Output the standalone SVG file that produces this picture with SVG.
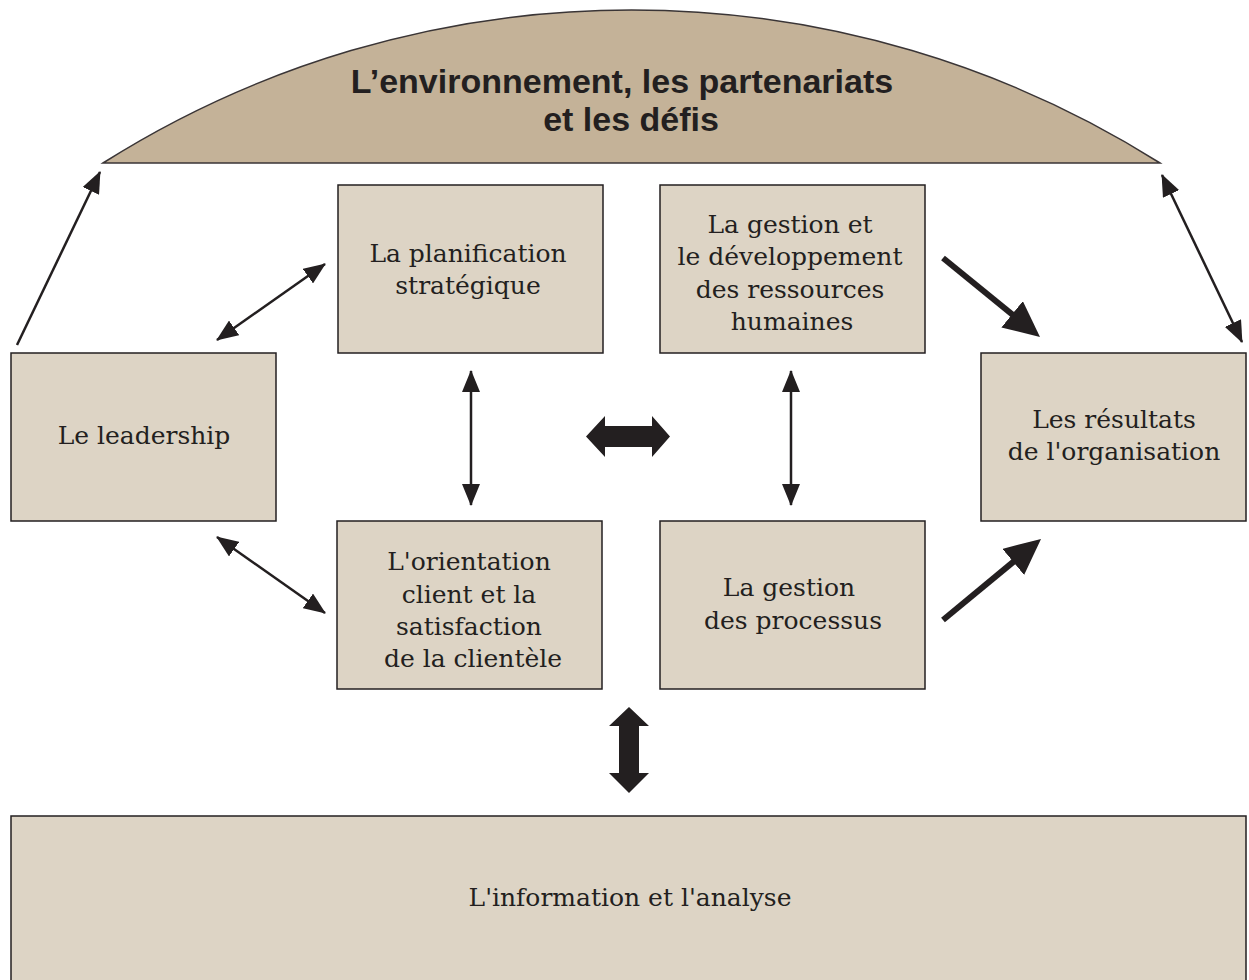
<svg xmlns="http://www.w3.org/2000/svg" width="1249" height="980" viewBox="0 0 1249 980">
<style>
.box{fill:#ddd4c5;stroke:#231f20;stroke-width:1.5}
.dome{fill:#c4b298;stroke:#3a3536;stroke-width:1.5}
.t{font-family:"DejaVu Serif","Liberation Serif",serif;font-size:25px;fill:#231f20;text-anchor:middle}
.title{font-family:"Liberation Sans",Arial,sans-serif;font-weight:bold;font-size:34px;fill:#231f20;text-anchor:middle}
.thin{stroke:#231f20;stroke-width:2.5;fill:none}
.thick{stroke:#231f20;stroke-width:6;fill:none}
.fat{fill:#231f20}
</style>
<defs>
<marker id="ah" viewBox="0 0 22 18" refX="21" refY="9" markerWidth="22" markerHeight="18" markerUnits="userSpaceOnUse" orient="auto-start-reverse">
<path d="M0,0 L22,9 L0,18 Z" fill="#231f20"/>
</marker>
<marker id="ahb" viewBox="0 0 36 34" refX="16" refY="17" markerWidth="36" markerHeight="34" markerUnits="userSpaceOnUse" orient="auto">
<path d="M0,0 L36,17 L0,34 Z" fill="#231f20"/>
</marker>
</defs>
<rect width="1249" height="980" fill="#ffffff"/>

<g id="dome">
<path class="dome" d="M103,163 A989,989 0 0 1 1160,163 Z"/>
<text class="title" x="622" y="93">L’environnement, les partenariats</text>
<text class="title" x="631" y="131">et les défis</text>
</g>

<g id="planification">
<rect class="box" x="338" y="185" width="265" height="168"/>
<text class="t" x="468" y="262">La planification</text>
<text class="t" x="468" y="294">stratégique</text>
</g>

<g id="rh">
<rect class="box" x="660" y="185" width="265" height="168"/>
<text class="t" x="790" y="233">La gestion et</text>
<text class="t" x="790" y="265">le développement</text>
<text class="t" x="790" y="298">des ressources</text>
<text class="t" x="792" y="330">humaines</text>
</g>

<g id="leadership">
<rect class="box" x="11" y="353" width="265" height="168"/>
<text class="t" x="144" y="444">Le leadership</text>
</g>

<g id="resultats">
<rect class="box" x="981" y="353" width="265" height="168"/>
<text class="t" x="1114" y="428">Les résultats</text>
<text class="t" x="1114" y="460">de l'organisation</text>
</g>

<g id="orientation">
<rect class="box" x="337" y="521" width="265" height="168"/>
<text class="t" x="469" y="570">L'orientation</text>
<text class="t" x="469" y="603">client et la</text>
<text class="t" x="469" y="635">satisfaction</text>
<text class="t" x="473" y="667">de la clientèle</text>
</g>

<g id="processus">
<rect class="box" x="660" y="521" width="265" height="168"/>
<text class="t" x="789" y="596">La gestion</text>
<text class="t" x="793" y="629">des processus</text>
</g>

<g id="information">
<rect class="box" x="11" y="816" width="1235" height="172"/>
<text class="t" x="630" y="906">L'information et l'analyse</text>
</g>

<g id="connectors">
<line class="thin" x1="17" y1="345" x2="100" y2="172" marker-end="url(#ah)"/>
<line class="thin" x1="217" y1="340" x2="325" y2="264" marker-start="url(#ah)" marker-end="url(#ah)"/>
<line class="thin" x1="471" y1="371" x2="471" y2="505" marker-start="url(#ah)" marker-end="url(#ah)"/>
<line class="thin" x1="791" y1="371" x2="791" y2="505" marker-start="url(#ah)" marker-end="url(#ah)"/>
<line class="thin" x1="217" y1="537" x2="325" y2="613" marker-start="url(#ah)" marker-end="url(#ah)"/>
<line class="thin" x1="1162" y1="175" x2="1242" y2="342" marker-start="url(#ah)" marker-end="url(#ah)"/>
<line class="thick" x1="943" y1="258" x2="1024.5" y2="324.4" marker-end="url(#ahb)"/>
<line class="thick" x1="943" y1="620" x2="1025.6" y2="551.7" marker-end="url(#ahb)"/>
<polygon class="fat" points="586,436.5 605,416 605,426 652,426 652,416 670,436.5 652,457 652,447 605,447 605,457"/>
<polygon class="fat" points="629,707 649,726 639,726 639,773 649,773 629,793 609,773 619,773 619,726 609,726"/>
</g>
</svg>
